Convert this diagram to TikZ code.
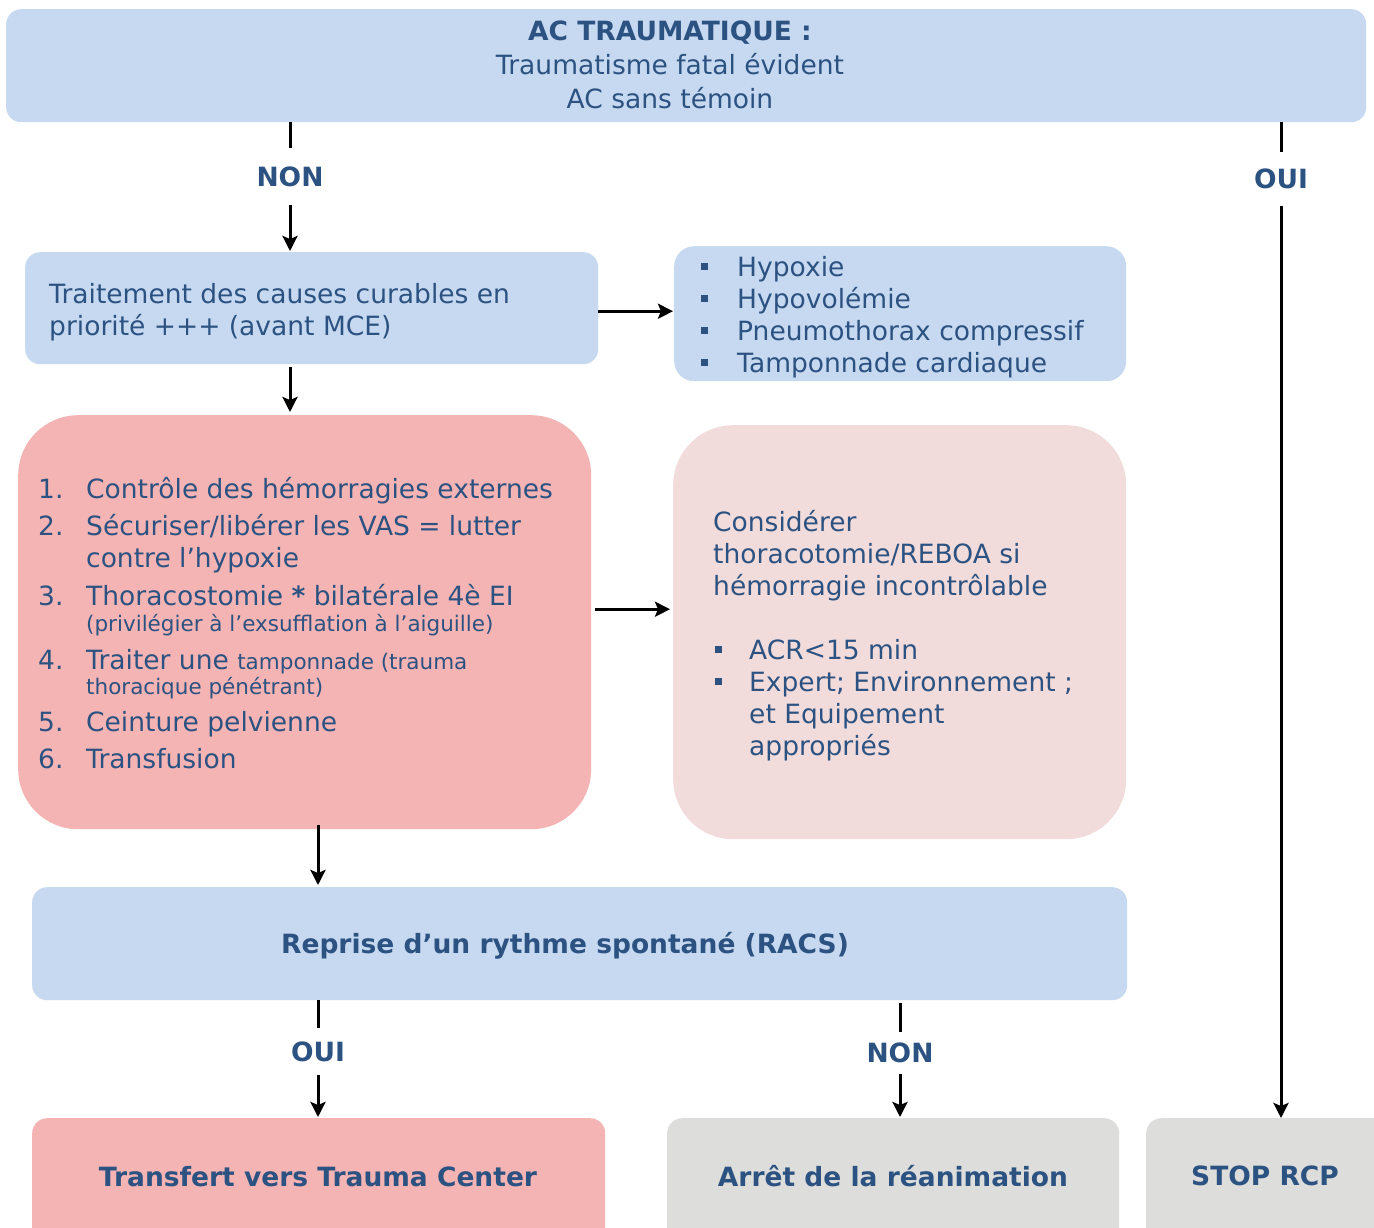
\documentclass[tikz,border=0pt]{standalone}
\usepackage{fontspec}
\setmainfont{DejaVu Sans}
\usetikzlibrary{arrows.meta}
\definecolor{bleu}{HTML}{C6D9F0}
\definecolor{rose}{HTML}{F4B4B4}
\definecolor{rosep}{HTML}{F2DCDB}
\definecolor{gris}{HTML}{DDDDDB}
\definecolor{txt}{HTML}{2C5282}
\newcommand{\puce}{\raisebox{6.5pt}{\rule{7pt}{7pt}}}
\newcommand{\petit}{\fontsize{21.5}{26}\selectfont}
\begin{document}
\begin{tikzpicture}[x=1pt,y=-1pt,
  boite/.style={inner sep=0pt, anchor=north west, rounded corners=15pt},
  grande/.style={boite, rounded corners=60pt},
  txtn/.style={text=txt, font=\fontsize{26.5}{32}\selectfont, inner sep=0pt},
  etiq/.style={text=txt, font=\fontsize{26.5}{32}\selectfont\bfseries, inner sep=0pt},
  ligne/.style={line width=3pt},
  fleche/.style={line width=3pt, -{Stealth[length=15pt,width=15pt,inset=3pt]}},
]
\clip (0,0) rectangle (1374,1227);
\fill[white] (0,0) rectangle (1374,1227);

% boxes
\node[boite, fill=bleu, minimum width=1360pt, minimum height=113pt] (top) at (6,9) {};
\node[boite, fill=bleu, minimum width=573pt, minimum height=112pt] (trt) at (25,252) {};
\node[boite, fill=bleu, rounded corners=20pt, minimum width=452pt, minimum height=135pt] (hyp) at (674,246) {};
\node[grande, fill=rose, minimum width=573pt, minimum height=414pt] (pink) at (18,415) {};
\node[grande, fill=rosep, minimum width=453pt, minimum height=414pt] (cons) at (673,425) {};
\node[boite, fill=bleu, minimum width=1095pt, minimum height=113pt] (racs) at (32,887) {};
\node[boite, fill=rose, minimum width=573pt, minimum height=140pt] (transf) at (32,1118) {};
\node[boite, fill=gris, minimum width=452pt, minimum height=140pt] (arret) at (667,1118) {};
\node[boite, fill=gris, minimum width=250pt, minimum height=140pt] (stop) at (1146,1118) {};

% texts
\node[txtn, anchor=base] (titre) at (670,40) {\fontsize{26.5}{34}\selectfont\begin{tabular}[t]{@{}c@{}}\textbf{AC TRAUMATIQUE :}\\Traumatisme fatal évident\\AC sans témoin\end{tabular}};
\node[txtn, anchor=base west] (trttxt) at (49,303) {\begin{tabular}[t]{@{}l@{}}Traitement des causes curables en\\priorité +++ (avant MCE)\end{tabular}};
\node[txtn, anchor=base west] (hyptxt) at (701,276) {\begin{tabular}[t]{@{}p{36pt}@{}l@{}}\puce & Hypoxie\\ \puce & Hypovolémie\\ \puce & Pneumothorax compressif\\ \puce & Tamponnade cardiaque\end{tabular}};
\node[txtn, anchor=base west] (pinktxt) at (38,498) {\begin{tabular}[t]{@{}p{48pt}@{}l@{}}
1. & Contrôle des hémorragies externes\\[5pt]
2. & Sécuriser/libérer les VAS = lutter\\
   & contre l’hypoxie\\[6pt]
3. & Thoracostomie \textbf{*} bilatérale 4è EI\\[-6pt]
   & {\petit (privilégier à l’exsufflation à l’aiguille)}\\[6pt]
4. & Traiter une {\petit tamponnade (trauma}\\[-7pt]
   & {\petit thoracique pénétrant)}\\[5pt]
5. & Ceinture pelvienne\\[5pt]
6. & Transfusion
\end{tabular}};
\node[txtn, anchor=base west] (constxt) at (713,531) {\begin{tabular}[t]{@{}p{36pt}@{}l@{}}
\multicolumn{2}{@{}l@{}}{Considérer}\\
\multicolumn{2}{@{}l@{}}{thoracotomie/REBOA si}\\
\multicolumn{2}{@{}l@{}}{hémorragie incontrôlable}\\[32pt]
\hspace*{2pt}\puce & ACR<15 min\\
\hspace*{2pt}\puce & Expert; Environnement ;\\
 & et Equipement\\
 & appropriés
\end{tabular}};
\node[etiq, anchor=base] (racstxt) at (565,953) {Reprise d’un rythme spontané (RACS)};
\node[etiq, anchor=base] (transftxt) at (318,1186) {Transfert vers Trauma Center};
\node[etiq, anchor=base] (arrettxt) at (893,1186) {Arrêt de la réanimation};
\node[etiq, anchor=base] (stoptxt) at (1265,1185) {STOP RCP};

% labels
\node[etiq, minimum height=56pt] (non1) at (290,176.5) {NON};
\node[etiq, minimum height=53pt] (oui1) at (1281,179) {OUI};
\node[etiq, minimum height=47pt] (oui2) at (318,1051.5) {OUI};
\node[etiq, minimum height=42pt] (non2) at (900,1053) {NON};

% connectors
\draw[ligne] (top.south -| non1) -- (non1);
\draw[fleche, shorten >=1pt] (non1) -- (trt.north -| non1);
\draw[ligne] (top.south -| oui1) -- (oui1);
\draw[fleche] (oui1) -- (stop.north -| oui1);
\draw[fleche, shorten >=1pt] ([yshift=-3pt]trt.east) -- ([yshift=-3pt]trt.east -| hyp.west);
\draw[fleche, shorten <=3pt, shorten >=3pt] (trt.south -| non1) -- (pink.north -| non1);
\draw[fleche, shorten <=4pt, shorten >=3pt] ([yshift=13pt]pink.east) -- ([yshift=13pt]pink.east -| cons.west);
\draw[fleche, shorten <=-4pt, shorten >=2pt] (pink.south -| oui2) -- (racs.north -| oui2);
\draw[ligne] (racs.south -| oui2) -- (oui2);
\draw[fleche, shorten >=1pt] (oui2) -- (transf.north -| oui2);
\draw[ligne, shorten <=3pt] (racs.south -| non2) -- (non2);
\draw[fleche, shorten >=1pt] (non2) -- (arret.north -| non2);
\end{tikzpicture}
\end{document}
